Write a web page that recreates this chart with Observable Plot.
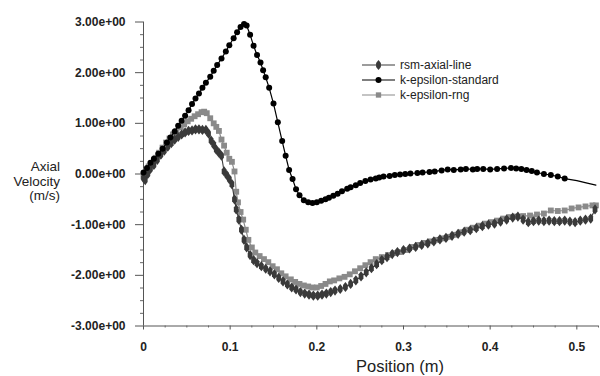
<!DOCTYPE html>
<html>
<head>
<meta charset="utf-8">
<script src="https://cdn.jsdelivr.net/npm/d3@7"></script>
<script src="https://cdn.jsdelivr.net/npm/@observablehq/plot@0.6"></script>
<style>
  html, body { margin: 0; padding: 0; background: #fff; }
  #wrap { position: relative; width: 600px; height: 376px; overflow: hidden; font-family: "Liberation Sans", Arial, sans-serif; }
  #wrap svg.plot [aria-label$="tick label"] { font-weight: bold; }
  .ylab { position: absolute; right: 540px; top: 160px; text-align: right; font-size: 13.5px; line-height: 14.5px; color: #222; }
  .xlab { position: absolute; left: 300px; width: 200px; top: 358px; text-align: center; font-size: 16.5px; line-height: 17px; color: #222; }
  .leg { position: absolute; left: 400px; font-size: 12px; line-height: 14px; color: #222; white-space: nowrap; }
</style>
</head>
<body>
<div id="wrap"></div>
<script>
// ---- data (Position m, Axial velocity m/s) ----
const seriesNames = ["rsm-axial-line", "k-epsilon-standard", "k-epsilon-rng"];

const rsmAxialLine = [
  [0.000,-0.08],[0.002,-0.12],[0.005,0.00],[0.008,0.10],[0.012,0.18],[0.016,0.28],[0.020,0.38],
  [0.024,0.46],[0.028,0.54],[0.032,0.61],[0.036,0.68],[0.040,0.73],[0.044,0.78],[0.048,0.82],
  [0.052,0.85],[0.056,0.86],[0.060,0.88],[0.064,0.88],[0.068,0.87],[0.072,0.87],[0.075,0.80],
  [0.078,0.66],[0.081,0.58],[0.084,0.48],[0.087,0.42],[0.090,0.36],[0.093,0.05],[0.096,-0.02],
  [0.099,-0.10],[0.102,-0.20],[0.105,-0.50],[0.107,-0.70],[0.110,-0.90],[0.113,-1.10],[0.116,-1.30],
  [0.119,-1.45],[0.123,-1.60],[0.127,-1.70],[0.131,-1.76],[0.136,-1.82],[0.141,-1.87],[0.146,-1.92],
  [0.151,-1.98],[0.156,-2.05],[0.161,-2.12],[0.166,-2.18],[0.171,-2.24],[0.176,-2.28],[0.181,-2.33],
  [0.186,-2.36],[0.191,-2.38],[0.196,-2.40],[0.201,-2.40],[0.206,-2.38],[0.211,-2.36],[0.216,-2.33],
  [0.221,-2.30],[0.227,-2.27],[0.233,-2.23],[0.239,-2.17],[0.245,-2.10],[0.251,-2.02],[0.257,-1.94],
  [0.263,-1.86],[0.269,-1.78],[0.275,-1.70],[0.281,-1.64],[0.287,-1.58],[0.293,-1.54],[0.300,-1.50],
  [0.307,-1.47],[0.314,-1.44],[0.321,-1.40],[0.328,-1.37],[0.335,-1.33],[0.342,-1.29],[0.349,-1.26],
  [0.356,-1.22],[0.363,-1.18],[0.370,-1.14],[0.377,-1.11],[0.384,-1.07],[0.391,-1.03],[0.398,-1.00],
  [0.405,-0.98],[0.412,-0.94],[0.419,-0.90],[0.426,-0.86],[0.432,-0.84],[0.438,-0.90],[0.444,-0.95],
  [0.450,-0.93],[0.456,-0.92],[0.462,-0.93],[0.468,-0.92],[0.474,-0.93],[0.480,-0.93],[0.486,-0.92],
  [0.492,-0.94],[0.498,-0.95],[0.504,-0.92],[0.510,-0.90],[0.516,-0.88],[0.521,-0.70]
];

const kEpsilonStandard = [
  [0.000,0.03],[0.004,0.12],[0.008,0.22],[0.012,0.30],[0.017,0.40],[0.022,0.50],[0.027,0.62],
  [0.031,0.72],[0.036,0.84],[0.040,0.95],[0.044,1.05],[0.048,1.15],[0.052,1.26],[0.056,1.38],
  [0.060,1.49],[0.064,1.59],[0.068,1.70],[0.072,1.80],[0.077,1.92],[0.081,2.04],[0.085,2.15],
  [0.090,2.28],[0.095,2.42],[0.099,2.54],[0.104,2.68],[0.108,2.80],[0.112,2.90],[0.116,2.96],
  [0.119,2.93],[0.123,2.75],[0.127,2.53],[0.131,2.35],[0.135,2.20],[0.138,2.05],[0.141,1.91],
  [0.145,1.70],[0.150,1.39],[0.155,1.02],[0.160,0.65],[0.164,0.36],[0.168,0.08],[0.172,-0.10],
  [0.176,-0.30],[0.180,-0.42],[0.185,-0.52],[0.190,-0.56],[0.195,-0.57],[0.200,-0.56],[0.205,-0.53],
  [0.210,-0.50],[0.214,-0.47],[0.219,-0.43],[0.224,-0.39],[0.229,-0.34],[0.235,-0.29],[0.239,-0.26],
  [0.245,-0.22],[0.250,-0.18],[0.256,-0.14],[0.262,-0.11],[0.268,-0.09],[0.272,-0.07],[0.277,-0.05],
  [0.284,-0.04],[0.290,-0.02],[0.296,-0.01],[0.302,0.00],[0.308,0.01],[0.316,0.02],[0.322,0.03],
  [0.330,0.04],[0.336,0.05],[0.344,0.07],[0.351,0.09],[0.358,0.08],[0.366,0.09],[0.372,0.10],
  [0.380,0.09],[0.385,0.10],[0.392,0.10],[0.400,0.09],[0.408,0.10],[0.416,0.11],[0.424,0.12],
  [0.430,0.11],[0.436,0.10],[0.442,0.08],[0.448,0.06],[0.454,0.03],[0.462,0.00],[0.470,-0.02],
  [0.478,-0.05],[0.486,-0.09],[0.500,-0.13],[0.512,-0.18],[0.522,-0.22]
];
// markers on k-epsilon-standard stop here (the tail is plain line)
const kEpsilonStandardMarkerEnd = 0.487;

const kEpsilonRng = [
  [0.000,-0.05],[0.003,0.05],[0.006,0.15],[0.010,0.22],[0.014,0.32],[0.018,0.42],[0.022,0.52],
  [0.026,0.62],[0.030,0.70],[0.034,0.78],[0.038,0.85],[0.043,0.92],[0.047,0.98],[0.051,1.04],
  [0.055,1.09],[0.059,1.14],[0.063,1.18],[0.067,1.22],[0.070,1.23],[0.073,1.20],[0.077,1.10],
  [0.081,1.00],[0.084,0.93],[0.087,0.85],[0.090,0.68],[0.093,0.56],[0.096,0.42],[0.099,0.30],
  [0.102,0.24],[0.105,0.05],[0.107,-0.35],[0.109,-0.56],[0.112,-0.75],[0.115,-0.90],[0.118,-1.10],
  [0.121,-1.30],[0.125,-1.45],[0.129,-1.55],[0.134,-1.62],[0.139,-1.68],[0.144,-1.74],[0.149,-1.82],
  [0.154,-1.88],[0.159,-1.96],[0.164,-2.02],[0.170,-2.08],[0.175,-2.13],[0.180,-2.17],[0.185,-2.20],
  [0.190,-2.22],[0.195,-2.24],[0.200,-2.24],[0.205,-2.21],[0.210,-2.17],[0.215,-2.12],[0.220,-2.10],
  [0.226,-2.06],[0.232,-2.03],[0.238,-1.98],[0.244,-1.92],[0.250,-1.86],[0.256,-1.80],[0.262,-1.74],
  [0.268,-1.68],[0.275,-1.64],[0.282,-1.60],[0.289,-1.56],[0.296,-1.54],[0.303,-1.50],[0.310,-1.44],
  [0.317,-1.40],[0.324,-1.36],[0.331,-1.33],[0.338,-1.30],[0.345,-1.27],[0.352,-1.24],[0.359,-1.20],
  [0.366,-1.15],[0.373,-1.10],[0.380,-1.06],[0.387,-1.02],[0.394,-0.98],[0.401,-0.95],[0.408,-0.92],
  [0.415,-0.88],[0.422,-0.85],[0.430,-0.84],[0.438,-0.83],[0.446,-0.82],[0.454,-0.80],[0.462,-0.78],
  [0.470,-0.72],[0.478,-0.73],[0.486,-0.72],[0.494,-0.68],[0.502,-0.66],[0.510,-0.64],[0.518,-0.62],
  [0.522,-0.62]
];

const yTicks = [-3, -2, -1, 0, 1, 2, 3];
const yTickLabels = ["-3.00e+00","-2.00e+00","-1.00e+00","0.00e+00","1.00e+00","2.00e+00","3.00e+00"];
const xTicks = [0, 0.1, 0.2, 0.3, 0.4, 0.5];
const xTickLabels = ["0","0.1","0.2","0.3","0.4","0.5"];
const xTitle = "Position (m)";
const yTitle = ["Axial", "Velocity", "(m/s)"];

// ---- styles ----
const colors = {"rsm-axial-line": "#3a3a3a", "k-epsilon-standard": "#000000", "k-epsilon-rng": "#8a8a8a"};
const rsmSymbol = {
  draw(ctx, size) {
    const r = Math.sqrt(size / Math.PI);
    const w = r * 0.8, h = r * 1.7;
    ctx.moveTo(0, -h); ctx.lineTo(w, -h * 0.4); ctx.lineTo(w, h * 0.4);
    ctx.lineTo(0, h); ctx.lineTo(-w, h * 0.4); ctx.lineTo(-w, -h * 0.4); ctx.closePath();
  }
};

const rows = (arr, name) => arr.map(([x, v]) => ({x, v, name}));
const rsmRows = rows(rsmAxialLine, seriesNames[0]);
const stdRows = rows(kEpsilonStandard, seriesNames[1]);
const rngRows = rows(kEpsilonRng, seriesNames[2]);

const yMinor = d3.range(-3, 3.001, 0.25).filter(d => Math.abs(d - Math.round(d)) > 1e-6);
const xMinor = d3.range(0, 0.5251, 0.025).filter(d => Math.abs(d * 10 - Math.round(d * 10)) > 1e-6);

const chart = Plot.plot({
  width: 600, height: 376,
  marginLeft: 143, marginRight: 2, marginTop: 21.5, marginBottom: 50.5,
  x: {domain: [0, 0.525]},
  y: {domain: [-3, 3]},
  style: {fontFamily: "'Liberation Sans', Arial, sans-serif", fontSize: "12px", background: "white", color: "#222"},
  marks: [
    Plot.ruleX([0], {stroke: "#555", strokeWidth: 1}),
    Plot.ruleY([-3], {stroke: "#555", strokeWidth: 1}),
    Plot.axisY(yMinor, {tickSize: 3, tickFormat: () => "", label: null, stroke: "#666"}),
    Plot.axisY(yTicks, {tickSize: 8, tickPadding: 10, label: null, stroke: "#555", fill: "#222",
      tickFormat: d => yTickLabels[yTicks.indexOf(d)]}),
    Plot.axisX(xMinor, {tickSize: 2, tickFormat: () => "", label: null, stroke: "#666"}),
    Plot.axisX(xTicks, {tickSize: 4, tickPadding: 12, label: null, stroke: "#555", fill: "#222",
      tickFormat: d => xTickLabels[xTicks.indexOf(d)]}),
    // k-epsilon-rng
    Plot.line(rngRows, {x: "x", y: "v", stroke: colors["k-epsilon-rng"], strokeWidth: 1.2}),
    Plot.dot(rngRows, {x: "x", y: "v", symbol: "square", r: 3.3, fill: colors["k-epsilon-rng"], stroke: "none"}),
    // rsm-axial-line
    Plot.line(rsmRows, {x: "x", y: "v", stroke: colors["rsm-axial-line"], strokeWidth: 1.1}),
    Plot.dot(rsmRows, {x: "x", y: "v", symbol: rsmSymbol, r: 3, fill: colors["rsm-axial-line"], stroke: "none"}),
    // k-epsilon-standard
    Plot.line(stdRows, {x: "x", y: "v", stroke: colors["k-epsilon-standard"], strokeWidth: 1.2}),
    Plot.dot(stdRows.filter(d => d.x <= kEpsilonStandardMarkerEnd), {x: "x", y: "v", r: 3, fill: colors["k-epsilon-standard"], stroke: "none"})
  ]
});
chart.classList.add("plot");

const wrap = document.getElementById("wrap");
wrap.appendChild(chart);

// axis titles
const yl = document.createElement("div");
yl.className = "ylab";
yl.innerHTML = yTitle.join("<br>");
wrap.appendChild(yl);
const xl = document.createElement("div");
xl.className = "xlab";
xl.textContent = xTitle;
wrap.appendChild(xl);

// legend
const legendTop = 58;
const legendStep = 15;
const legSvg = d3.select(wrap).append("svg")
  .attr("width", 40).attr("height", 60)
  .style("position", "absolute").style("left", "358px").style("top", (legendTop - 5) + "px");
seriesNames.forEach((name, i) => {
  const cy = 12 + i * legendStep;
  legSvg.append("line").attr("x1", 4).attr("x2", 37).attr("y1", cy).attr("y2", cy)
    .attr("stroke", colors[name]).attr("stroke-width", 1.2);
  const sym = i === 0 ? rsmSymbol : (i === 1 ? d3.symbolCircle : d3.symbolSquare);
  legSvg.append("path").attr("transform", `translate(20.5,${cy})`)
    .attr("d", d3.symbol(sym, Math.PI * 9)()).attr("fill", colors[name]);
  const t = document.createElement("div");
  t.className = "leg";
  t.style.top = (legendTop + i * legendStep) + "px";
  t.textContent = name;
  wrap.appendChild(t);
});
</script>
</body>
</html>
